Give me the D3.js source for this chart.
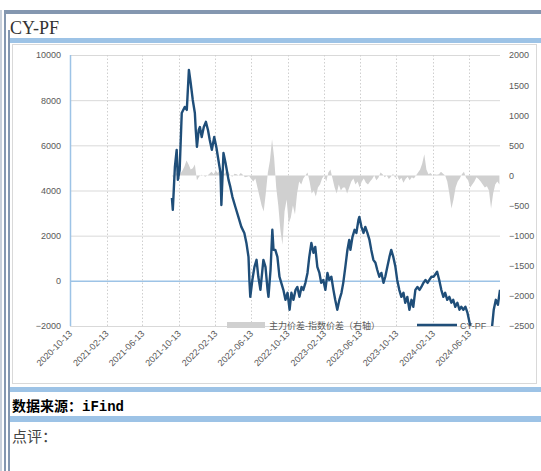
<!DOCTYPE html>
<html><head><meta charset="utf-8">
<script src="https://cdn.jsdelivr.net/npm/d3@7"></script>
<style>body{margin:0;background:#fff}svg{display:block}</style>
</head><body>
<script>
const leftTicks = [10000, 8000, 6000, 4000, 2000, 0, -2000];
const rightTicks = [2000, 1500, 1000, 500, 0, -500, -1000, -1500, -2000, -2500];
const xTickLabels = ["2020-10-13","2021-02-13","2021-06-13","2021-10-13","2022-02-13","2022-06-13","2022-10-13","2023-02-13","2023-06-13","2023-10-13","2024-02-13","2024-06-13"];
const legendLabels = ["主力价差-指数价差（右轴）", "CY-PF"];
const titleText = "CY-PF";

const cyDates = ["2021-09-20","2021-09-23","2021-09-30","2021-10-06","2021-10-10","2021-10-16","2021-10-23","2021-11-02","2021-11-09","2021-11-16","2021-11-22","2021-11-29","2021-12-06","2021-12-09","2021-12-13","2021-12-19","2021-12-23","2021-12-29","2022-01-05","2022-01-12","2022-01-19","2022-01-25","2022-02-01","2022-02-09","2022-02-16","2022-02-23","2022-03-02","2022-03-05","2022-03-12","2022-03-19","2022-03-29","2022-04-04","2022-04-11","2022-04-21","2022-05-01","2022-05-11","2022-05-21","2022-05-28","2022-06-04","2022-06-07","2022-06-10","2022-06-17","2022-06-24","2022-07-01","2022-07-07","2022-07-14","2022-07-24","2022-07-31","2022-08-07","2022-08-10","2022-08-17","2022-08-23","2022-08-27","2022-09-02","2022-09-09","2022-09-16","2022-09-22","2022-09-29","2022-10-06","2022-10-13","2022-10-20","2022-10-26","2022-11-02","2022-11-09","2022-11-15","2022-11-22","2022-11-29","2022-12-05","2022-12-12","2022-12-19","2022-12-25","2023-01-01","2023-01-08","2023-01-14","2023-01-21","2023-01-28","2023-02-03","2023-02-10","2023-02-17","2023-02-24","2023-03-02","2023-03-09","2023-03-16","2023-03-22","2023-03-29","2023-04-05","2023-04-12","2023-04-18","2023-04-25","2023-05-02","2023-05-08","2023-05-12","2023-05-19","2023-05-26","2023-06-01","2023-06-08","2023-06-11","2023-06-18","2023-06-25","2023-07-01","2023-07-08","2023-07-15","2023-07-21","2023-07-28","2023-08-04","2023-08-10","2023-08-17","2023-08-24","2023-08-31","2023-09-06","2023-09-13","2023-09-20","2023-09-26","2023-10-03","2023-10-10","2023-10-16","2023-10-23","2023-10-30","2023-11-06","2023-11-12","2023-11-19","2023-11-26","2023-12-03","2023-12-09","2023-12-16","2023-12-23","2023-12-30","2024-01-05","2024-01-12","2024-01-19","2024-01-26","2024-02-01","2024-02-08","2024-02-15","2024-02-20","2024-02-27","2024-03-05","2024-03-12","2024-03-19","2024-03-25","2024-04-01","2024-04-08","2024-04-15","2024-04-21","2024-04-28","2024-05-05","2024-05-12","2024-05-18","2024-05-25","2024-06-01","2024-06-08","2024-06-13","2024-06-20","2024-07-03","2024-07-20","2024-08-09","2024-08-29","2024-09-04","2024-09-11","2024-09-18","2024-09-25"];
const cyValues = [3670,3140,5045,5800,4470,4910,7430,7700,7570,9340,8760,8010,7430,6680,5930,6680,6810,6370,6810,7040,6680,6240,5800,6370,5930,5350,4780,3360,5660,5220,4470,4160,3720,3270,2830,2390,2120,1680,1060,40,-710,40,620,930,180,-400,930,620,-400,-710,490,2260,1370,1370,1060,180,-90,-400,-840,-530,-1280,-530,-840,-400,-270,-710,-270,-400,-90,350,1060,1680,1240,1500,620,350,-90,40,-400,350,40,180,-400,-840,-1280,-840,-530,-90,620,1370,1810,1370,1950,2260,2120,2700,2830,2390,2120,2390,2120,1810,1370,930,800,490,180,350,-90,180,620,1060,1370,1060,620,40,-400,-710,-530,-970,-710,-1280,-840,-1150,-400,-270,-400,-270,-90,40,-90,40,180,180,270,400,40,-400,-710,-530,-840,-710,-970,-840,-1150,-970,-1280,-1150,-1280,-1150,-1420,-1730,-2170,-2600,-2800,-2600,-2080,-1280,-840,-1060,-400];

const grayDates = ["2021-09-20","2021-09-27","2021-10-04","2021-10-11","2021-10-18","2021-10-25","2021-11-01","2021-11-08","2021-11-15","2021-11-22","2021-11-29","2021-12-06","2021-12-13","2021-12-20","2021-12-27",
"2022-01-03","2022-01-10","2022-01-17","2022-01-24","2022-01-31","2022-02-07","2022-02-14","2022-02-21","2022-02-28","2022-03-07","2022-03-14","2022-03-21","2022-03-28","2022-04-04","2022-04-11","2022-04-18","2022-04-25","2022-05-02","2022-05-09","2022-05-16","2022-05-23","2022-05-30","2022-06-06","2022-06-13","2022-06-20","2022-06-27","2022-07-04","2022-07-11","2022-07-18","2022-07-25","2022-08-01","2022-08-08","2022-08-15","2022-08-22","2022-08-29","2022-09-05","2022-09-12","2022-09-19","2022-09-26","2022-10-03","2022-10-10","2022-10-17","2022-10-24","2022-10-31","2022-11-07","2022-11-14","2022-11-21","2022-11-28","2022-12-05","2022-12-12","2022-12-19","2022-12-26",
"2023-01-02","2023-01-09","2023-01-16","2023-01-23","2023-01-30","2023-02-06","2023-02-13","2023-02-20","2023-02-27","2023-03-06","2023-03-13","2023-03-20","2023-03-27","2023-04-03","2023-04-10","2023-04-17","2023-04-24","2023-05-01","2023-05-08","2023-05-15","2023-05-22","2023-05-29","2023-06-05","2023-06-12","2023-06-19","2023-06-26","2023-07-03","2023-07-10","2023-07-17","2023-07-24","2023-07-31","2023-08-07","2023-08-14","2023-08-21","2023-08-28","2023-09-04","2023-09-11","2023-09-18","2023-09-25","2023-10-02","2023-10-09","2023-10-16","2023-10-23","2023-10-30","2023-11-06","2023-11-13","2023-11-20","2023-11-27","2023-12-04","2023-12-11","2023-12-18","2023-12-25",
"2024-01-01","2024-01-08","2024-01-15","2024-01-22","2024-01-29","2024-02-05","2024-02-12","2024-02-19","2024-02-26","2024-03-04","2024-03-11","2024-03-18","2024-03-25","2024-04-01","2024-04-08","2024-04-15","2024-04-22","2024-04-29","2024-05-06","2024-05-13","2024-05-20","2024-05-27","2024-06-03","2024-06-10","2024-06-17","2024-06-24","2024-07-01","2024-07-08","2024-07-15","2024-07-22","2024-07-29","2024-08-05","2024-08-12","2024-08-19","2024-08-26","2024-09-02","2024-09-09","2024-09-16","2024-09-23"];
const grayValues = [0,-50,50,0,30,80,150,250,180,100,120,180,-80,-20,10,
0,-20,0,30,60,20,80,40,100,50,20,70,60,0,-20,30,20,0,40,10,-30,-20,-10,-60,-100,-50,-200,-350,-500,-600,-300,50,250,600,300,-200,-500,-900,-1150,-600,-400,-800,-700,-500,-650,-300,-100,-150,-50,0,50,-100,
-300,-250,-350,-200,-150,-50,0,-100,50,100,-50,-200,-300,-150,-250,-200,-200,-300,-200,-100,-50,-150,-100,-200,-100,-50,-120,-150,-100,-60,0,-80,-40,50,20,-30,0,-60,-20,30,-40,0,-80,-40,-120,-60,-20,-80,-30,-50,0,50,
100,200,350,100,20,40,0,20,10,20,60,30,0,-100,-300,-550,-400,-200,-100,-50,20,60,-40,-80,-200,-150,-100,-30,-60,-100,-150,-200,-180,-250,-550,-300,-150,-100,-150];

const W = 541, H = 471;
const parse = d3.timeParse("%Y-%m-%d");
const svg = d3.select("body").append("svg").attr("width", W).attr("height", H);

// frame decorations
svg.append("rect").attr("x",0).attr("y",0).attr("width",W).attr("height",H).attr("fill","#fff");
svg.append("rect").attr("x",5).attr("y",10).attr("width",W-5).attr("height",4).attr("fill","#8497b0");
svg.append("rect").attr("x",0).attr("y",10).attr("width",2).attr("height",H-10).attr("fill","#c9d1dc");
svg.append("rect").attr("x",4).attr("y",10).attr("width",2).attr("height",H-10).attr("fill","#8497b0");
svg.append("rect").attr("x",8).attr("y",30).attr("width",2).attr("height",H-30).attr("fill","#8497b0");
svg.append("text").attr("x",10).attr("y",34).attr("font-family","'Liberation Serif', serif").attr("font-size",18).attr("fill","#333").text(titleText);
svg.append("rect").attr("x",10).attr("y",38).attr("width",W-10).attr("height",5).attr("fill","#9dc3e6");
svg.append("rect").attr("x",12.5).attr("y",44.5).attr("width",524).attr("height",339).attr("fill","#fff").attr("stroke","#d9d9d9");
svg.append("rect").attr("x",10).attr("y",387).attr("width",W-10).attr("height",5).attr("fill","#9dc3e6");
const src = svg.append("text").attr("x",12).attr("y",411).attr("font-size",14).attr("font-weight","bold").attr("fill","#000");
src.append("tspan").attr("font-family","'Noto Sans CJK SC'").text("数据来源：");
src.append("tspan").attr("font-family","'Liberation Mono', monospace").text("iFind");
svg.append("rect").attr("x",10).attr("y",416).attr("width",W-10).attr("height",6).attr("fill","#9dc3e6");
svg.append("text").attr("x",12).attr("y",442).attr("font-family","'Noto Sans CJK SC'").attr("font-size",15).attr("fill","#444").text("点评：");

// scales
const L = 70, R = 500, T = 55, B = 326;
const x = d3.scaleTime().domain([parse("2020-10-13"), parse("2024-09-25")]).range([L, R]);
const yL = d3.scaleLinear().domain([-2000, 10000]).range([B, T]);
const yR = d3.scaleLinear().domain([-2500, 2000]).range([B, T]);

const defs = svg.append("defs");
defs.append("clipPath").attr("id","clip").append("rect").attr("x",L).attr("y",T).attr("width",R-L).attr("height",B-T);

// horizontal gridlines
svg.append("g").selectAll("line").data(leftTicks).join("line")
  .attr("x1",L).attr("x2",R).attr("y1",d=>yL(d)+0.5).attr("y2",d=>yL(d)+0.5)
  .attr("stroke",d=> d===0 ? "#9dc3e6" : "#d9d9d9").attr("stroke-width",d=> d===0 ? 1.5 : 1);

// vertical dotted gridlines
const xTicks = xTickLabels.map(parse);
svg.append("g").selectAll("line").data(xTicks.slice(1)).join("line")
  .attr("x1",d=>Math.round(x(d))+0.5).attr("x2",d=>Math.round(x(d))+0.5).attr("y1",T).attr("y2",B)
  .attr("stroke","#cfcfcf").attr("stroke-dasharray","1.5,2");

// gray area (right axis)
const grayData = grayDates.map((d,i)=>({d:parse(d), v:grayValues[i]}));
svg.append("path").datum(grayData).attr("clip-path","url(#clip)")
  .attr("fill","#d0d0d0")
  .attr("d", d3.area().x(p=>x(p.d)).y0(yR(0)).y1(p=>yR(p.v)));

// left axis line
svg.append("line").attr("x1",L+0.5).attr("x2",L+0.5).attr("y1",T).attr("y2",B).attr("stroke","#9dc3e6").attr("stroke-width",1.5);
svg.append("line").attr("x1",L).attr("x2",R).attr("y1",B+0.5).attr("y2",B+0.5).attr("stroke","#d9d9d9");

// CY-PF line
const cyData = cyDates.map((d,i)=>({d:parse(d), v:cyValues[i]}));
svg.append("path").datum(cyData).attr("clip-path","url(#clip)")
  .attr("fill","none").attr("stroke","#1f4e79").attr("stroke-width",2.4).attr("stroke-linejoin","round")
  .attr("d", d3.line().x(p=>x(p.d)).y(p=>yL(p.v)));

// axes via d3
const fontAxis = "'Liberation Sans', Arial, sans-serif";
const gL = svg.append("g").attr("transform",`translate(${L-6},0)`)
  .call(d3.axisLeft(yL).tickValues(leftTicks).tickSize(0).tickFormat(d3.format("d")));
gL.select(".domain").remove();
gL.selectAll("text").attr("font-family",fontAxis).attr("font-size",9).attr("fill","#595959");

const gR = svg.append("g").attr("transform",`translate(${R+6},0)`)
  .call(d3.axisRight(yR).tickValues(rightTicks).tickSize(0).tickFormat(d3.format("d")));
gR.select(".domain").remove();
gR.selectAll("text").attr("font-family",fontAxis).attr("font-size",9).attr("fill","#595959");

const gX = svg.append("g").attr("transform",`translate(0,${B+6})`)
  .call(d3.axisBottom(x).tickValues(xTicks).tickSize(0).tickFormat(d3.timeFormat("%Y-%m-%d")));
gX.select(".domain").remove();
gX.selectAll("text").attr("font-family",fontAxis).attr("font-size",9).attr("fill","#595959")
  .attr("text-anchor","end").attr("dy","0.35em").attr("transform","rotate(-45)").attr("x",0).attr("y",0);

// legend
const lg = svg.append("g");
lg.append("rect").attr("x",227).attr("y",322).attr("width",38).attr("height",6).attr("fill","#d0d0d0");
lg.append("text").attr("x",269).attr("y",328.5).attr("font-family","'Noto Sans CJK SC'").attr("font-size",9).attr("fill","#595959").text(legendLabels[0]);
lg.append("line").attr("x1",417).attr("x2",457).attr("y1",325).attr("y2",325).attr("stroke","#1f4e79").attr("stroke-width",2.4);
lg.append("text").attr("x",460).attr("y",328.5).attr("font-family",fontAxis).attr("font-size",9).attr("fill","#595959").text(legendLabels[1]);
</script>
</body></html>
